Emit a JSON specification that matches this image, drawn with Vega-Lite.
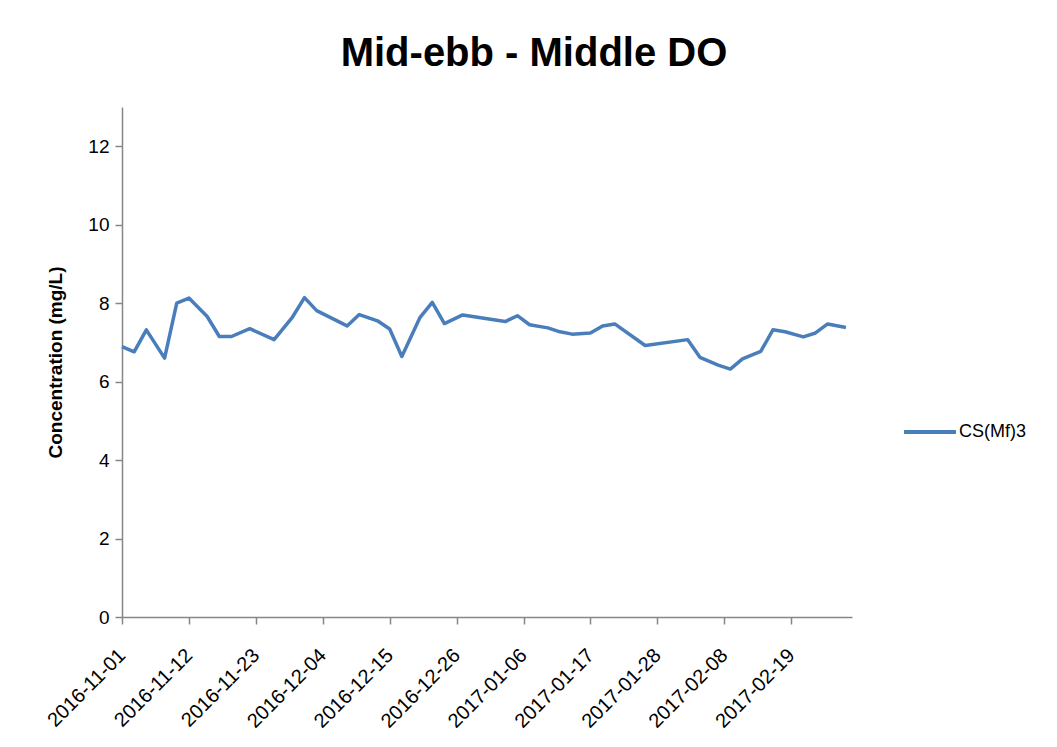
{
  "$schema": "https://vega.github.io/schema/vega-lite/v6.json",
  "autosize": {"type": "none"},
  "width": 730,
  "height": 510,
  "padding": {"left": 122, "top": 107, "right": 205, "bottom": 130},
  "background": "white",
  "config": {
    "view": {"stroke": null},
    "font": "Liberation Sans"
  },
  "title": {
    "text": "Mid-ebb - Middle DO",
    "fontSize": 40,
    "fontWeight": "bold",
    "font": "Liberation Sans",
    "color": "#000000",
    "anchor": "middle",
    "dx": 47,
    "offset": 33
  },
  "data": {
    "values": [
      {"date": "2016-11-01", "value": 6.89, "series": "CS(Mf)3"},
      {"date": "2016-11-03", "value": 6.76, "series": "CS(Mf)3"},
      {"date": "2016-11-05", "value": 7.32, "series": "CS(Mf)3"},
      {"date": "2016-11-08", "value": 6.60, "series": "CS(Mf)3"},
      {"date": "2016-11-10", "value": 8.00, "series": "CS(Mf)3"},
      {"date": "2016-11-12", "value": 8.13, "series": "CS(Mf)3"},
      {"date": "2016-11-15", "value": 7.66, "series": "CS(Mf)3"},
      {"date": "2016-11-17", "value": 7.15, "series": "CS(Mf)3"},
      {"date": "2016-11-19", "value": 7.15, "series": "CS(Mf)3"},
      {"date": "2016-11-22", "value": 7.35, "series": "CS(Mf)3"},
      {"date": "2016-11-26", "value": 7.07, "series": "CS(Mf)3"},
      {"date": "2016-11-29", "value": 7.64, "series": "CS(Mf)3"},
      {"date": "2016-12-01", "value": 8.14, "series": "CS(Mf)3"},
      {"date": "2016-12-03", "value": 7.81, "series": "CS(Mf)3"},
      {"date": "2016-12-08", "value": 7.42, "series": "CS(Mf)3"},
      {"date": "2016-12-10", "value": 7.71, "series": "CS(Mf)3"},
      {"date": "2016-12-13", "value": 7.55, "series": "CS(Mf)3"},
      {"date": "2016-12-15", "value": 7.34, "series": "CS(Mf)3"},
      {"date": "2016-12-17", "value": 6.64, "series": "CS(Mf)3"},
      {"date": "2016-12-20", "value": 7.64, "series": "CS(Mf)3"},
      {"date": "2016-12-22", "value": 8.02, "series": "CS(Mf)3"},
      {"date": "2016-12-24", "value": 7.48, "series": "CS(Mf)3"},
      {"date": "2016-12-27", "value": 7.70, "series": "CS(Mf)3"},
      {"date": "2017-01-03", "value": 7.53, "series": "CS(Mf)3"},
      {"date": "2017-01-05", "value": 7.68, "series": "CS(Mf)3"},
      {"date": "2017-01-07", "value": 7.45, "series": "CS(Mf)3"},
      {"date": "2017-01-10", "value": 7.37, "series": "CS(Mf)3"},
      {"date": "2017-01-12", "value": 7.27, "series": "CS(Mf)3"},
      {"date": "2017-01-14", "value": 7.21, "series": "CS(Mf)3"},
      {"date": "2017-01-17", "value": 7.24, "series": "CS(Mf)3"},
      {"date": "2017-01-19", "value": 7.42, "series": "CS(Mf)3"},
      {"date": "2017-01-21", "value": 7.47, "series": "CS(Mf)3"},
      {"date": "2017-01-26", "value": 6.92, "series": "CS(Mf)3"},
      {"date": "2017-02-02", "value": 7.07, "series": "CS(Mf)3"},
      {"date": "2017-02-04", "value": 6.62, "series": "CS(Mf)3"},
      {"date": "2017-02-07", "value": 6.42, "series": "CS(Mf)3"},
      {"date": "2017-02-09", "value": 6.32, "series": "CS(Mf)3"},
      {"date": "2017-02-11", "value": 6.58, "series": "CS(Mf)3"},
      {"date": "2017-02-14", "value": 6.77, "series": "CS(Mf)3"},
      {"date": "2017-02-16", "value": 7.32, "series": "CS(Mf)3"},
      {"date": "2017-02-18", "value": 7.27, "series": "CS(Mf)3"},
      {"date": "2017-02-21", "value": 7.14, "series": "CS(Mf)3"},
      {"date": "2017-02-23", "value": 7.24, "series": "CS(Mf)3"},
      {"date": "2017-02-25", "value": 7.47, "series": "CS(Mf)3"},
      {"date": "2017-02-28", "value": 7.38, "series": "CS(Mf)3"}
    ]
  },
  "mark": {"type": "line", "strokeWidth": 3.5, "strokeJoin": "round"},
  "encoding": {
    "x": {
      "field": "date",
      "type": "temporal",
      "scale": {
        "domain": [
          {"year": 2016, "month": 11, "date": 1},
          {"year": 2017, "month": 3, "date": 1}
        ]
      },
      "axis": {
        "title": null,
        "values": [
          {"year": 2016, "month": 11, "date": 1},
          {"year": 2016, "month": 11, "date": 12},
          {"year": 2016, "month": 11, "date": 23},
          {"year": 2016, "month": 12, "date": 4},
          {"year": 2016, "month": 12, "date": 15},
          {"year": 2016, "month": 12, "date": 26},
          {"year": 2017, "month": 1, "date": 6},
          {"year": 2017, "month": 1, "date": 17},
          {"year": 2017, "month": 1, "date": 28},
          {"year": 2017, "month": 2, "date": 8},
          {"year": 2017, "month": 2, "date": 19}
        ],
        "format": "%Y-%m-%d",
        "labelAngle": -45,
        "labelAlign": "right",
        "labelBaseline": "middle",
        "labelFontSize": 20,
        "labelColor": "#000000",
        "labelPadding": 28,
        "labelOverlap": false,
        "labelFlush": false,
        "grid": false,
        "domainColor": "#868686",
        "domainWidth": 1.5,
        "tickColor": "#868686",
        "tickSize": 7,
        "tickWidth": 1.5
      }
    },
    "y": {
      "field": "value",
      "type": "quantitative",
      "scale": {"domain": [0, 13], "nice": false},
      "axis": {
        "title": "Concentration (mg/L)",
        "titleFontSize": 19,
        "titleFontWeight": "bold",
        "titleColor": "#000000",
        "titlePadding": 22,
        "values": [0, 2, 4, 6, 8, 10, 12],
        "labelFontSize": 19,
        "labelColor": "#000000",
        "labelPadding": 6,
        "grid": false,
        "domainColor": "#868686",
        "domainWidth": 1.5,
        "tickColor": "#868686",
        "tickSize": 7,
        "tickWidth": 1.5
      }
    },
    "color": {
      "field": "series",
      "type": "nominal",
      "scale": {"range": ["#4A7EBB"]},
      "legend": {
        "title": null,
        "orient": "none",
        "legendX": 780,
        "legendY": 297,
        "symbolType": "stroke",
        "symbolSize": 2700,
        "symbolStrokeWidth": 4,
        "labelFontSize": 18,
        "labelColor": "#000000",
        "labelOffset": 1
      }
    }
  }
}
